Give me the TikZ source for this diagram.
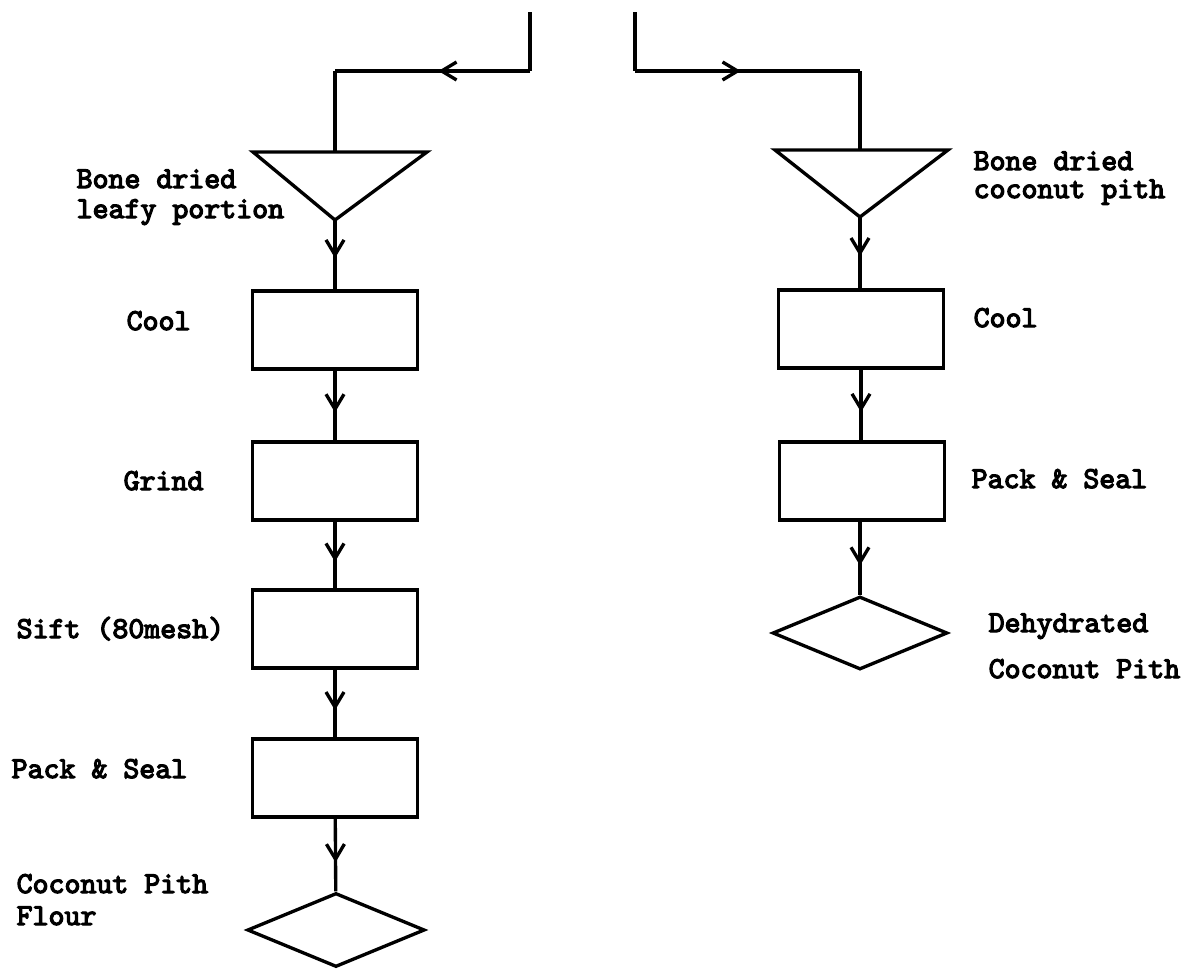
\documentclass[tikz,border=0pt]{standalone}
\usepackage{fontspec}
\newfontfamily\typefont{lmmono10-regular.otf}[FakeBold=4]
\usetikzlibrary{arrows.meta, decorations.markings, shapes.geometric, positioning, calc}

\begin{document}
\begin{tikzpicture}[x=0.02cm, y=-0.02cm, line width=1.9pt,
    box/.style={draw, rectangle, minimum width=3.3cm, minimum height=1.56cm, inner sep=0},
    product/.style={draw, diamond, aspect=2.4, minimum width=3.55cm, minimum height=1.48cm, inner sep=0},
    txt/.style={anchor=base west, inner sep=0, font=\typefont\bfseries\fontsize{17.3}{20}\selectfont},
    midarrow/.style={postaction={decorate}, decoration={markings,
        mark=at position #1 with {\arrow{Straight Barb[length=0.3cm, width=0.36cm]}}}},
    midarrow/.default=0.55]
    \useasboundingbox (0,0) rectangle (1181,970);

    % Feed lines splitting to the two branches
    \coordinate (lsrc) at (530,12);
    \coordinate (lbend) at (530,71);
    \coordinate (lcorner) at (335,71);
    \coordinate (rsrc) at (635,12);
    \coordinate (rbend) at (635,71);
    \coordinate (rcorner) at (860,71);

    % Storage triangles
    \coordinate (ltop) at (335,152);
    \coordinate (lapex) at (335,220);
    \draw (253,152) -- (427,152) -- (lapex) -- cycle;
    \coordinate (rtop) at (860,150);
    \coordinate (rapex) at (860,217);
    \draw (775,150) -- (948,150) -- (rapex) -- cycle;

    % Leafy portion branch
    \node[box] (lcool) at (335,330) {};
    \node[box] (lgrind) at (335,481) {};
    \node[box] (lsift) at (335,629) {};
    \node[box] (lpack) at (335,778) {};
    \node[product] (lflour) at (336,930) {};

    % Pith branch
    \node[box] (rcool) at (861,329) {};
    \node[box] (rpack) at (862,481) {};
    \node[product, minimum width=3.5cm, minimum height=1.46cm] (rpith) at (860,633) {};

    % Connectors
    \draw (lsrc) -- (lbend);
    \draw[midarrow=0.47] (lbend) -- (lcorner);
    \draw (lcorner) -- (ltop);
    \draw (rsrc) -- (rbend);
    \draw[midarrow=0.47] (rbend) -- (rcorner);
    \draw (rcorner) -- (rtop);

    \draw[midarrow] (lapex) -- (lcool.north);
    \draw[midarrow=0.6] (lcool) -- (lgrind);
    \draw[midarrow=0.6] (lgrind) -- (lsift);
    \draw[midarrow=0.6] (lsift) -- (lpack);
    \draw[midarrow=0.6] (lpack) -- (lflour);

    \draw[midarrow] (rapex) -- (rapex |- rcool.north);
    \draw[midarrow=0.6] (rcool.south) -- (rcool.south |- rpack.north);
    \draw[midarrow=0.6] (rpack.south -| rpith.north) -- (rpith.north);

    % Labels
    \node[txt] (lraw1) at (75,188) {Bone dried};
    \node[txt] (lraw2) at (75,218) {leafy portion};
    \node[txt] (lcooltxt) at (125,330) {Cool};
    \node[txt] (lgrindtxt) at (122,490) {Grind};
    \node[txt] (lsifttxt) at (15,638) {Sift (80mesh)};
    \node[txt] (lpacktxt) at (10,778) {Pack \& Seal};
    \node[txt] (lflour1) at (15,893) {Coconut Pith};
    \node[txt] (lflour2) at (15,925) {Flour};

    \node[txt] (rraw1) at (972,170) {Bone dried};
    \node[txt] (rraw2) at (972,198) {coconut pith};
    \node[txt] (rcooltxt) at (972,327) {Cool};
    \node[txt] (rpacktxt) at (970,488) {Pack \& Seal};
    \node[txt] (rpith1) at (987,632) {Dehydrated};
    \node[txt] (rpith2) at (987,678) {Coconut Pith};
\end{tikzpicture}
\end{document}
